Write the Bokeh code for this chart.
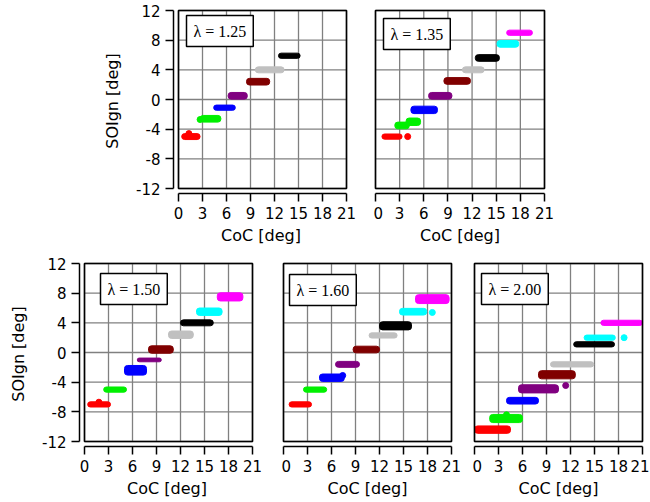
from bokeh.plotting import figure
from bokeh.models import FixedTicker, BoxAnnotation, Label, Range1d, LinearAxis
from bokeh.layouts import column, row
from bokeh.embed import file_html
from bokeh.resources import INLINE

# ---------------- data ----------------
x_ticks = [0, 3, 6, 9, 12, 15, 18, 21]
y_ticks = [-12, -8, -4, 0, 4, 8, 12]
y_tick_labels = ["-12", "-8", "-4", "0", "4", "8", "12"]

RED, GRN, BLU, PUR, MAR, GRY, BLK, CYN, MAG = (
    "#ff0000", "#00f000", "#0000ff", "#800080", "#800000",
    "#c0c0c0", "#000000", "#00ffff", "#ff00ff")

lambda_labels = ["λ = 1.25", "λ = 1.35", "λ = 1.50", "λ = 1.60", "λ = 2.00"]

# lambda = 1.25
l125_coc_lo = [0.4, 2.7, 4.4, 6.2, 8.5, 9.6, 12.5]
l125_coc_hi = [2.7, 5.3, 7.1, 8.6, 11.4, 13.2, 15.2]
l125_soign = [-5.0, -2.6, -1.1, 0.5, 2.4, 4.0, 5.9]
l125_spread = [0.8, 0.9, 0.7, 0.9, 0.9, 0.8, 0.7]
l125_color = [RED, GRN, BLU, PUR, MAR, GRY, BLK]
l125_out_coc = [1.3, 2.7]
l125_out_soign = [-4.6, -2.7]
l125_out_color = [RED, GRN]

# lambda = 1.35
l135_coc_lo = [0.8, 2.4, 3.8, 4.4, 6.6, 8.5, 10.8, 12.4, 15.1, 16.3]
l135_coc_hi = [3.3, 4.2, 5.6, 7.7, 9.5, 11.8, 13.5, 15.4, 17.8, 19.5]
l135_soign = [-5.0, -3.5, -3.0, -1.4, 0.5, 2.5, 4.0, 5.6, 7.5, 9.0]
l135_spread = [0.7, 0.9, 1.0, 1.0, 0.9, 0.9, 0.8, 0.9, 0.9, 0.7]
l135_color = [RED, GRN, GRN, BLU, PUR, MAR, GRY, BLK, CYN, MAG]
l135_out_coc = [4.0]
l135_out_soign = [-5.0]
l135_out_color = [RED]

# lambda = 1.50
l150_coc_lo = [0.4, 2.4, 5.0, 6.6, 8.0, 10.5, 12.0, 14.0, 16.6]
l150_coc_hi = [3.25, 5.25, 7.75, 9.6, 11.1, 13.6, 16.1, 17.2, 19.8]
l150_soign = [-7.0, -5.0, -2.4, -1.0, 0.4, 2.4, 4.0, 5.5, 7.5]
l150_spread = [0.7, 0.7, 1.3, 0.5, 1.0, 1.0, 0.8, 1.0, 1.1]
l150_color = [RED, GRN, BLU, PUR, MAR, GRY, BLK, CYN, MAG]
l150_out_coc = [1.8]
l150_out_soign = [-6.7]
l150_out_color = [RED]

# lambda = 1.60
l160_coc_lo = [0.7, 2.5, 4.5, 6.5, 8.7, 10.7, 12.0, 14.5, 16.5]
l160_coc_hi = [3.5, 5.4, 7.6, 9.5, 12.0, 14.2, 16.0, 17.9, 20.7]
l160_soign = [-7.0, -5.0, -3.4, -1.6, 0.4, 2.3, 3.6, 5.5, 7.2]
l160_spread = [0.7, 0.7, 1.0, 0.8, 0.9, 0.7, 1.1, 0.9, 1.2]
l160_color = [RED, GRN, BLU, PUR, MAR, GRY, BLK, CYN, MAG]
l160_out_coc = [7.4, 18.6]
l160_out_soign = [-3.1, 5.4]
l160_out_color = [BLU, CYN]

# lambda = 2.00
l200_coc_lo = [0.0, 1.9, 4.0, 5.5, 8.0, 9.5, 12.4, 13.7, 15.8]
l200_coc_hi = [4.5, 6.0, 8.0, 10.5, 12.6, 14.9, 17.5, 17.6, 21.0]
l200_soign = [-10.4, -8.9, -6.5, -4.9, -3.0, -1.6, 1.1, 2.0, 4.0]
l200_spread = [1.0, 1.1, 0.9, 1.1, 1.1, 0.7, 0.7, 0.7, 0.7]
l200_color = [RED, GRN, BLU, PUR, MAR, GRY, BLK, CYN, MAG]
l200_out_coc = [4.0, 11.4, 18.7]
l200_out_soign = [-8.4, -4.45, 2.0]
l200_out_color = [GRN, PUR, CYN]

# ---------------- layout (pixels) ----------------
GRID_COLOR = "#808080"
SANS = "DejaVu Sans"


def style_axis(ax, standoff):
    ax.axis_line_width = 1.5
    ax.major_tick_line_width = 1.5
    ax.major_tick_out = 8
    ax.major_tick_in = 0
    ax.minor_tick_line_color = None
    ax.major_label_standoff = 5
    ax.major_label_text_font = SANS
    ax.major_label_text_font_size = "15px"
    ax.major_label_text_color = "black"
    ax.axis_label_text_font = SANS
    ax.axis_label_text_font_size = "16px"
    ax.axis_label_text_font_style = "normal"
    ax.axis_label_text_color = "black"
    ax.axis_label_standoff = standoff


def make_panel(lo, hi, yv, spread, cols, ox, oy, ocol, lab,
               box, row_top, row_h, fig_left, fig_w, left_axis, lab_off):
    bx0, bx1, by0, by1 = box
    sx = (bx1 - bx0) / 21.0
    sy = (by1 - by0) / 24.0
    gl = 5 if left_axis else 2
    fx0, fx1 = bx0 - gl, bx1 + 2
    fy0, fy1 = by0 - 2, by1 + 5
    mb_left = fx0 - fig_left
    mb_right = fig_left + fig_w - fx1
    mb_top = fy0 - row_top
    mb_bottom = row_top + row_h - fy1
    fw, fh = fx1 - fx0, fy1 - fy0
    p = figure(width=fig_w, height=row_h, frame_width=fw, frame_height=fh,
               x_range=Range1d(-gl / sx, 21 + 2 / sx),
               y_range=Range1d(-12 - 5 / sy, 12 + 2 / sy),
               x_axis_location=None, y_axis_location=None,
               output_backend="svg", toolbar_location=None,
               min_border_left=mb_left, min_border_right=mb_right,
               min_border_top=mb_top, min_border_bottom=mb_bottom)
    p.outline_line_color = None
    p.background_fill_color = "white"
    p.border_fill_color = "white"
    p.grid.grid_line_color = None
    p.grid.visible = False

    n = len(x_ticks)
    m = len(y_ticks)
    p.segment(x0=x_ticks, y0=[-12] * n, x1=x_ticks, y1=[12] * n,
              line_color=GRID_COLOR, line_width=1.3)
    p.segment(x0=[0] * m, y0=y_ticks, x1=[21] * m, y1=y_ticks,
              line_color=GRID_COLOR, line_width=1.3)

    p.hbar(y=yv, left=lo, right=hi, height=spread, color=cols, border_radius=3)
    if ox:
        p.scatter(x=ox, y=oy, size=6, color=ocol, marker="circle")

    p.add_layout(BoxAnnotation(left=0, right=21, bottom=-12, top=12,
                               fill_color=None, line_color="black",
                               line_width=1.6, line_alpha=1.0))

    xa = LinearAxis(ticker=FixedTicker(ticks=x_ticks), bounds=(0, 21),
                    axis_label="CoC [deg]")
    style_axis(xa, 4)
    p.add_layout(xa, "below")

    if left_axis:
        ya = LinearAxis(ticker=FixedTicker(ticks=y_ticks), bounds=(-12, 12),
                        axis_label="SOIgn [deg]",
                        major_label_overrides={t: s for t, s in zip(y_ticks, y_tick_labels)})
        style_axis(ya, 11)
        p.add_layout(ya, "left")

    p.add_layout(Label(x=lab_off[0] / sx, y=12 - lab_off[1] / sy, text=lab,
                       anchor="top_left", text_font="Liberation Serif",
                       text_font_size="16px", text_color="black",
                       border_line_color="black", border_line_width=1.5,
                       background_fill_color="white", padding=7))
    return p


p125 = make_panel(l125_coc_lo, l125_coc_hi, l125_soign, l125_spread, l125_color,
                  l125_out_coc, l125_out_soign, l125_out_color, lambda_labels[0],
                  (178, 346, 10, 188), 0, 250, 0, 373, True, (8, 5))
p135 = make_panel(l135_coc_lo, l135_coc_hi, l135_soign, l135_spread, l135_color,
                  l135_out_coc, l135_out_soign, l135_out_color, lambda_labels[1],
                  (375, 544, 10, 188), 0, 250, 373, 276, False, (8, 8))
p150 = make_panel(l150_coc_lo, l150_coc_hi, l150_soign, l150_spread, l150_color,
                  l150_out_coc, l150_out_soign, l150_out_color, lambda_labels[2],
                  (84, 252, 263, 441), 250, 251, 0, 281, True, (16, 10))
p160 = make_panel(l160_coc_lo, l160_coc_hi, l160_soign, l160_spread, l160_color,
                  l160_out_coc, l160_out_soign, l160_out_color, lambda_labels[3],
                  (283, 451, 263, 441), 250, 251, 281, 191, False, (6, 11))
p200 = make_panel(l200_coc_lo, l200_coc_hi, l200_soign, l200_spread, l200_color,
                  l200_out_coc, l200_out_soign, l200_out_color, lambda_labels[4],
                  (474, 642, 263, 441), 250, 251, 472, 177, False, (7, 10))

layout = column(row(p125, p135), row(p150, p160, p200))

with open("out.html", "w") as f:
    f.write(file_html(layout, INLINE))
